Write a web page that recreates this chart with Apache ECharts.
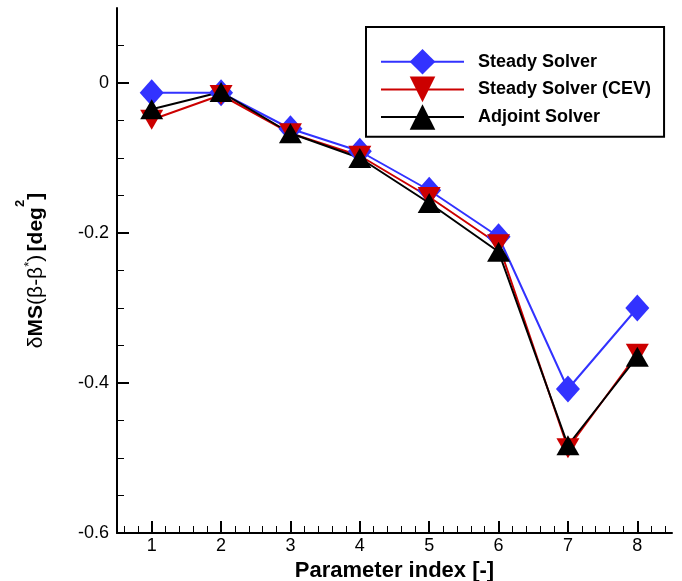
<!DOCTYPE html>
<html>
<head>
<meta charset="utf-8">
<script src="https://cdn.jsdelivr.net/npm/echarts@6/dist/echarts.min.js"></script>
<style>
html, body { margin: 0; padding: 0; background: #fff; }
#chart { width: 682px; height: 581px; }
</style>
</head>
<body>
<div id="chart"></div>
<script>
// parameter index 1..8
const paramIndex = [1, 2, 3, 4, 5, 6, 7, 8]
const steadySolver = [-0.013, -0.013, -0.061, -0.091, -0.143, -0.205, -0.408, -0.300]
const steadySolverCEV = [-0.049, -0.016, -0.067, -0.097, -0.152, -0.215, -0.487, -0.361]
const adjointSolver = [-0.035, -0.012, -0.067, -0.100, -0.160, -0.225, -0.483, -0.365]

const xTicks = [1, 2, 3, 4, 5, 6, 7, 8]
const xMinorTicks = Array.from({ length: 40 }, (_, i) => +(0.6 + i * 0.2).toFixed(1))
const yTicks = [-0.6, -0.4, -0.2, 0]
const yMinorTicks = [-0.55, -0.5, -0.45, -0.35, -0.3, -0.25, -0.15, -0.1, -0.05, 0.05]

const font = 'Liberation Sans, Arial, sans-serif'

let chart = echarts.init(document.getElementById('chart'))

const pairs = arr => paramIndex.map((x, i) => [x, arr[i]])

let option = {
    animation: false,
    grid: { left: 117, right: 10, top: 8, bottom: 48, outerBoundsMode: 'none' },
    legend: {
        left: 366,
        top: 27,
        orient: 'vertical',
        selectedMode: false,
        borderColor: '#000',
        borderWidth: 2,
        padding: [22, 13, 7, 14],
        itemWidth: 83,
        itemHeight: 32,
        itemGap: 2,
        textStyle: {
            fontFamily: font,
            fontWeight: 'bold',
            fontSize: 18,
            color: '#000',
            padding: [0, 0, 0, 9]
        },
        data: ['Steady Solver', 'Steady Solver (CEV)', 'Adjoint Solver']
    },
    xAxis: [{
        type: 'value',
        min: 0.5,
        max: 8.5,
        name: 'Parameter index [-]',
        nameLocation: 'middle',
        nameGap: 21,
        nameTextStyle: { fontFamily: font, fontWeight: 'bold', fontSize: 22, color: '#000' },
        splitLine: { show: false },
        axisLine: { onZero: false, lineStyle: { color: '#000', width: 2 } },
        axisTick: { inside: true, length: 12, customValues: xTicks, lineStyle: { color: '#000', width: 2 } },
        axisLabel: { customValues: xTicks, margin: 4, fontFamily: font, fontSize: 18, color: '#000' }
    }, {
        type: 'value',
        min: 0.5,
        max: 8.5,
        position: 'bottom',
        splitLine: { show: false },
        axisLine: { show: false, onZero: false },
        axisTick: { inside: true, length: 7, customValues: xMinorTicks, lineStyle: { color: '#000', width: 1 } },
        axisLabel: { show: false }
    }],
    yAxis: [{
        type: 'value',
        min: -0.6,
        max: 0.1,
        name: '{n|δ}{b|MS}{n|(β-β}{a|*}{n|)} {b|[deg}{s|2}{b|]}',
        nameLocation: 'middle',
        nameRotate: 90,
        nameGap: 59,
        nameTextStyle: {
            rich: {
                b: { fontFamily: font, fontWeight: 'bold', fontSize: 21, color: '#000', lineHeight: 44 },
                n: { fontFamily: font, fontSize: 21, color: '#000', lineHeight: 44 },
                s: { fontFamily: font, fontWeight: 'bold', fontSize: 13, color: '#000', verticalAlign: 'top' },
                a: { fontFamily: font, fontSize: 13, color: '#000', verticalAlign: 'top', height: 30 }
            }
        },
        splitLine: { show: false },
        axisLine: { onZero: false, lineStyle: { color: '#000', width: 2 } },
        axisTick: { inside: true, length: 12, customValues: yTicks, lineStyle: { color: '#000', width: 2 } },
        axisLabel: { customValues: yTicks, margin: 8, fontFamily: font, fontSize: 18, color: '#000' }
    }, {
        type: 'value',
        min: -0.6,
        max: 0.1,
        position: 'left',
        splitLine: { show: false },
        axisLine: { show: false, onZero: false },
        axisTick: { inside: true, length: 7, customValues: yMinorTicks, lineStyle: { color: '#000', width: 1 } },
        axisLabel: { show: false }
    }],
    series: [{
        name: 'Steady Solver',
        type: 'line',
        data: pairs(steadySolver),
        symbol: 'diamond',
        symbolSize: [24, 27],
        color: '#3232ff',
        lineStyle: { color: '#3232ff', width: 2 },
        itemStyle: { color: '#3232ff' }
    }, {
        name: 'Steady Solver (CEV)',
        type: 'line',
        data: pairs(steadySolverCEV),
        symbol: 'triangle',
        symbolRotate: 180,
        symbolSize: [23, 20],
        color: '#cc0000',
        lineStyle: { color: '#cc0000', width: 2 },
        itemStyle: { color: '#cc0000' }
    }, {
        name: 'Adjoint Solver',
        type: 'line',
        data: pairs(adjointSolver),
        symbol: 'triangle',
        symbolSize: [23, 20],
        color: '#000',
        lineStyle: { color: '#000', width: 2 },
        itemStyle: { color: '#000' }
    }]
}
chart.setOption(option)
</script>
</body>
</html>
